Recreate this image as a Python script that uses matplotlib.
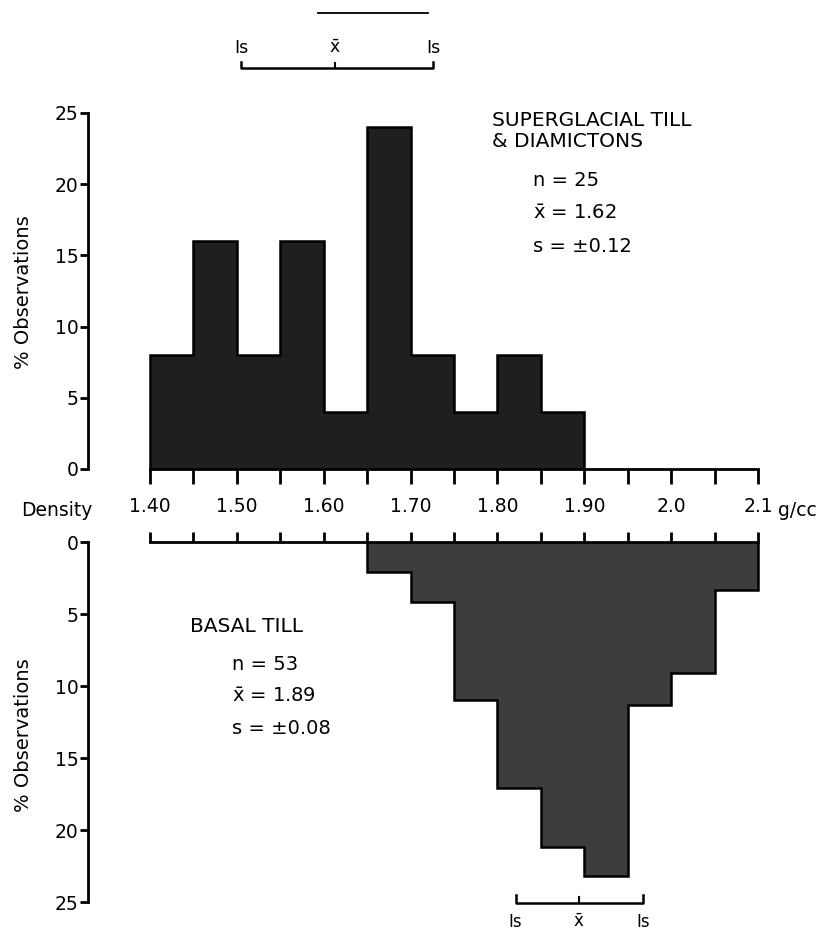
import matplotlib

matplotlib.use("Agg")
import matplotlib.pyplot as plt

plt.rcParams["font.family"] = ["DejaVu Sans"]
plt.rcParams["mathtext.fontset"] = "dejavusans"

# histogram data (% of observations per 0.05 g/cc bin)
top_edges = [1.40, 1.45, 1.50, 1.55, 1.60, 1.65, 1.70, 1.75, 1.80, 1.85, 1.90]
top_pct = [8, 16, 8, 16, 4, 24, 8, 4, 8, 4]
bottom_edges = [1.65, 1.70, 1.75, 1.80, 1.85, 1.90, 1.95, 2.00, 2.05, 2.10]
bottom_pct = [2.1, 4.2, 11.0, 17.1, 21.2, 23.2, 11.3, 9.1, 3.3]

density_ticks = [1.40, 1.50, 1.60, 1.70, 1.80, 1.90, 2.0, 2.1]
density_labels = ["1.40", "1.50", "1.60", "1.70", "1.80", "1.90", "2.0", "2.1"]
minor_ticks = [1.45, 1.55, 1.65, 1.75, 1.85, 1.95, 2.05]
pct_ticks = [0, 5, 10, 15, 20, 25]

# mean / 1s brackets as drawn
top_bracket = [1.505, 1.613, 1.726]
bottom_bracket = [1.821, 1.894, 1.968]

top_stats = ["n = 25", r"$\bar{\mathsf{x}}$ = 1.62", "s = \u00b10.12"]
bottom_stats = ["n = 53", r"$\bar{\mathsf{x}}$ = 1.89", "s = \u00b10.08"]

W, H = 825, 934
PX_PER_UNIT = 868.6
X0 = 1.40 - 150 / PX_PER_UNIT
X1 = 1.40 + 675 / PX_PER_UNIT
Y_TOP = 14.24
Y_BOT = 14.4
SPLIT = 520

fig = plt.figure(figsize=(W / 100, H / 100), dpi=100)
ax_t = fig.add_axes([0, (H - SPLIT) / H, 1, SPLIT / H])
ax_b = fig.add_axes([0, 0, 1, (H - SPLIT) / H])

ax_t.set_xlim(X0, X1)
ax_t.set_ylim((469 - SPLIT) / Y_TOP, 469 / Y_TOP)
ax_b.set_xlim(X0, X1)
ax_b.set_ylim((H - 542) / Y_BOT, (SPLIT - 542) / Y_BOT)

# filled step outlines (no inner edges between bins)
ax_t.stairs(top_pct, top_edges, fill=True, facecolor="#1f1f1f",
            edgecolor="black", linewidth=1.8)
ax_b.stairs(bottom_pct, bottom_edges, fill=True, facecolor="#3d3d3d",
            edgecolor="black", linewidth=1.8)

yaxis_x = 1.40 - 62 / PX_PER_UNIT
for ax in (ax_t, ax_b):
    for s in ("right", "top", "bottom", "left"):
        ax.spines[s].set_visible(False)
    ax.spines["left"].set_visible(True)
    ax.spines["left"].set_position(("data", yaxis_x))
    ax.spines["left"].set_bounds(0, 25)
    ax.spines["left"].set_linewidth(2)
    ax.set_yticks(pct_ticks)
    ax.set_yticklabels([str(t) for t in pct_ticks])
    ax.tick_params(axis="y", direction="out", length=6, width=2,
                   labelsize=13.5, pad=1)
    ax.patch.set_visible(False)

# top axis: density scale along the baseline
ax_t.spines["bottom"].set_visible(True)
ax_t.spines["bottom"].set_position(("data", 0))
ax_t.spines["bottom"].set_bounds(1.40, 2.10)
ax_t.spines["bottom"].set_linewidth(2)
ax_t.set_xticks(density_ticks)
ax_t.set_xticklabels(density_labels)
ax_t.set_xticks(minor_ticks, minor=True)
ax_t.tick_params(axis="x", which="both", direction="out", length=11,
                 width=2, labelsize=13.5, pad=9)

# bottom axis: ticks pointing up
ax_b.spines["top"].set_visible(True)
ax_b.spines["top"].set_position(("data", 0))
ax_b.spines["top"].set_bounds(1.40, 2.10)
ax_b.spines["top"].set_linewidth(2)
ax_b.xaxis.set_ticks_position("top")
ax_b.set_xticks(density_ticks)
ax_b.set_xticks(minor_ticks, minor=True)
ax_b.tick_params(axis="x", which="both", direction="out", length=7,
                 width=2, labeltop=False, labelbottom=False)

lab_y = (469 - 510) / Y_TOP
ax_t.text(1.40 - 93 / PX_PER_UNIT, lab_y, "Density", ha="center",
          va="center", fontsize=13.5)
ax_t.text(2.10 + 20 / PX_PER_UNIT, lab_y, "g/cc", ha="left",
          va="center", fontsize=13.5)

ylab_x = 1.40 - 126 / PX_PER_UNIT
ax_t.text(ylab_x, (469 - 292) / Y_TOP, "% Observations", rotation=90,
          ha="center", va="center", fontsize=14)
ax_b.text(ylab_x, (735 - 542) / Y_BOT, "% Observations", rotation=90,
          ha="center", va="center", fontsize=14)

# group labels and statistics
ax_t.text(1.40 + 342 / PX_PER_UNIT, (469 - 131) / Y_TOP,
          "SUPERGLACIAL TILL\n& DIAMICTONS", ha="left", va="center",
          fontsize=14.5, linespacing=1.15)
for i, s in enumerate(top_stats):
    ax_t.text(1.40 + 383 / PX_PER_UNIT, (469 - 180 - 33.5 * i) / Y_TOP, s,
              ha="left", va="center", fontsize=14)

ax_b.text(1.40 + 40 / PX_PER_UNIT, (626 - 542) / Y_BOT, "BASAL TILL",
          ha="left", va="center", fontsize=14.5)
for i, s in enumerate(bottom_stats):
    ax_b.text(1.40 + 82 / PX_PER_UNIT, (665 - 542 + 31.5 * i) / Y_BOT, s,
              ha="left", va="center", fontsize=14)

# mean +/- 1s brackets
br_y = (469 - 68) / Y_TOP
ax_t.plot([top_bracket[0], top_bracket[0], top_bracket[2], top_bracket[2]],
          [br_y + 0.45, br_y, br_y, br_y + 0.45], color="black", lw=1.8,
          clip_on=False)
ax_t.plot([top_bracket[1], top_bracket[1]], [br_y, br_y + 0.35],
          color="black", lw=1.5)
for xv, s in zip(top_bracket, ["Is", r"$\bar{\mathsf{x}}$", "Is"]):
    ax_t.text(xv, (469 - 48) / Y_TOP, s, ha="center", va="center",
              fontsize=12.5)
ax_t.plot([1.593, 1.720], [(469 - 13) / Y_TOP] * 2, color="black", lw=1.3)

bb_y = (903 - 542) / Y_BOT
ax_b.plot([bottom_bracket[0], bottom_bracket[0], bottom_bracket[2],
           bottom_bracket[2]],
          [bb_y - 0.55, bb_y, bb_y, bb_y - 0.55], color="black", lw=1.8)
ax_b.plot([bottom_bracket[1], bottom_bracket[1]], [bb_y, bb_y - 0.45],
          color="black", lw=1.5)
for xv, s in zip(bottom_bracket, ["Is", r"$\bar{\mathsf{x}}$", "Is"]):
    ax_b.text(xv, (922 - 542) / Y_BOT, s, ha="center", va="center",
              fontsize=12)

fig.savefig("out.png", dpi=100, facecolor="white")
